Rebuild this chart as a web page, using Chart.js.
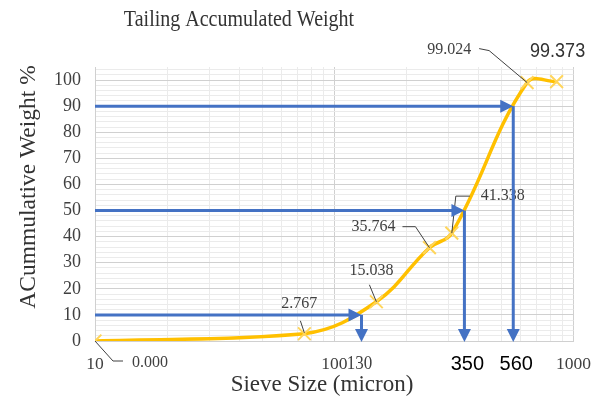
<!DOCTYPE html>
<html>
<head>
<meta charset="utf-8">
<script src="https://cdn.jsdelivr.net/npm/chart.js@4/dist/chart.umd.min.js"></script>
<style>
  html, body { margin: 0; padding: 0; background: #ffffff; }
  #wrap { width: 604px; height: 398px; }
</style>
</head>
<body>
<div id="wrap"><canvas id="chart" width="604" height="398"></canvas></div>
<script>
// Sieve analysis of the tailing: cumulative weight passing each sieve
const sieveSizes = [10, 75, 150, 250, 310, 640, 850];          // micron
const cumulativeWeight = [0, 2.767, 15.038, 35.764, 41.338, 99.024, 99.373]; // %

// Axis ticks
const xLabelledTicks = [10, 100, 1000];
const xGridValues = [10, 20, 30, 40, 50, 60, 70, 80, 90, 100, 200, 300, 400, 500, 600, 700, 800, 900, 1000];
const yLabelledTicks = [0, 10, 20, 30, 40, 50, 60, 70, 80, 90, 100];
const yGridStep = 2;

// Reading guides: percentage passing -> sieve size
const guideLevels = [10, 50, 90];
const guideSizes = [130, 350, 560];

// Styling / placement (not data)
const SERIF = '"Liberation Serif", "Times New Roman", serif';
const SANS = '"Liberation Sans", Arial, sans-serif';
const GOLD = '#FFC000';
const MARKER = '#FFD55A';
const BLUE = '#4472C4';
const TEXT = '#404040';

const labelPlacement = [
  { dx: 37,  dy: 21,  align: 'left',   leader: [[0, 0], [18, 20], [28, 20]] },
  { dx: -5,  dy: -30, align: 'center', leader: [[0, -1], [-4, -13]] },
  { dx: -5,  dy: -31, align: 'center', leader: [[0, 0], [-7, -17]] },
  { dx: -56, dy: -21, align: 'center', leader: [[0, 0], [-14, -21], [-27, -21]] },
  { dx: 29,  dy: -38, align: 'left',   leader: [[0, 0], [4, -37], [18, -37]] },
  { dx: -56, dy: -33, align: 'right',  leader: [[0, 0], [-38, -32], [-48, -34]] },
  { dx: 1,   dy: -30, align: 'center', leader: null, sans: true }
];
const guideLabelStyle = [
  { font: '17px ' + SERIF, color: TEXT },
  { font: '20px ' + SANS, color: '#000000' },
  { font: '20px ' + SANS, color: '#000000' }
];

const points = sieveSizes.map((s, i) => ({ x: s, y: cumulativeWeight[i] }));

function arrowHead(ctx, x, y, dir) {
  const len = 13, half = 6.5;
  ctx.beginPath();
  if (dir === 'right') {
    ctx.moveTo(x, y); ctx.lineTo(x - len, y - half); ctx.lineTo(x - len, y + half);
  } else {
    ctx.moveTo(x, y); ctx.lineTo(x - half, y - len); ctx.lineTo(x + half, y - len);
  }
  ctx.closePath();
  ctx.fill();
}

// horizontal text, slightly taller than wide
function tallText(ctx, text, x, y, font, sy) {
  ctx.save();
  ctx.translate(x, y);
  ctx.scale(1, sy);
  ctx.font = font;
  ctx.fillText(text, 0, 0);
  ctx.restore();
}

const annotations = {
  id: 'annotations',
  afterDatasetsDraw(chart) {
    const { ctx, scales: { x, y } } = chart;
    ctx.save();

    // value labels with leader lines
    points.forEach((p, i) => {
      const px = x.getPixelForValue(p.x);
      const py = y.getPixelForValue(p.y);
      const lp = labelPlacement[i];
      if (lp.leader) {
        ctx.strokeStyle = '#404040';
        ctx.lineWidth = 1;
        ctx.beginPath();
        lp.leader.forEach(([lx, ly], k) => {
          if (k === 0) ctx.moveTo(px + lx, py + ly); else ctx.lineTo(px + lx, py + ly);
        });
        ctx.stroke();
      }
      ctx.fillStyle = lp.sans ? '#333333' : TEXT;
      ctx.textAlign = lp.align;
      ctx.textBaseline = 'middle';
      tallText(ctx, p.y.toFixed(3), px + lp.dx, py + lp.dy, lp.sans ? '18px ' + SANS : '16px ' + SERIF, 1.08);
    });

    // reading guides: horizontal arrow to the curve, then down to the size axis
    guideLevels.forEach((lvl, i) => {
      const gx = x.getPixelForValue(guideSizes[i]);
      const gy = y.getPixelForValue(lvl);
      const x0 = x.getPixelForValue(x.min);
      const yb = y.getPixelForValue(0) + 1;
      ctx.strokeStyle = BLUE;
      ctx.fillStyle = BLUE;
      ctx.lineWidth = 3;
      ctx.beginPath();
      ctx.moveTo(x0, gy); ctx.lineTo(gx - 12, gy);
      ctx.stroke();
      arrowHead(ctx, gx, gy, 'right');
      ctx.beginPath();
      ctx.moveTo(gx, gy); ctx.lineTo(gx, yb - 12);
      ctx.stroke();
      arrowHead(ctx, gx, yb, 'down');

      const st = guideLabelStyle[i];
      ctx.fillStyle = st.color;
      ctx.textAlign = 'center';
      ctx.textBaseline = 'middle';
      tallText(ctx, String(guideSizes[i]), gx + (i === 0 ? -2 : 3), 364, st.font, 1.05);
    });

    // titles
    ctx.fillStyle = '#333333';
    ctx.textAlign = 'center';
    ctx.textBaseline = 'middle';
    tallText(ctx, 'Tailing Accumulated Weight', 239, 20, '20px ' + SERIF, 1.15);
    tallText(ctx, 'Sieve Size (micron)', 322, 385, '23px ' + SERIF, 1.0);
    ctx.save();
    ctx.translate(29, 187);
    ctx.rotate(-Math.PI / 2);
    ctx.font = '23.5px ' + SERIF;
    ctx.fillText('ACummulative Weight %', 0, 0);
    ctx.restore();

    ctx.restore();
  }
};

new Chart(document.getElementById('chart'), {
  type: 'line',
  data: {
    datasets: [{
      data: points,
      borderColor: GOLD,
      borderWidth: 3.5,
      tension: 0.4,
      fill: false,
      pointStyle: 'crossRot',
      pointRadius: 9,
      pointBorderColor: MARKER,
      pointBorderWidth: 2,
      pointBackgroundColor: MARKER
    }]
  },
  options: {
    responsive: false,
    animation: false,
    devicePixelRatio: 1,
    layout: { padding: { left: 0, top: 67, right: 29, bottom: 0 } },
    plugins: { legend: { display: false }, tooltip: { enabled: false }, title: { display: false } },
    scales: {
      x: {
        type: 'logarithmic',
        min: 10,
        max: 1000,
        afterBuildTicks: (s) => { s.ticks = xGridValues.map(v => ({ value: v, major: xLabelledTicks.includes(v) })); },
        afterFit: (s) => { s.height = 57; },
        ticks: {
          autoSkip: false,
          maxRotation: 0,
          padding: 13,
          color: TEXT,
          font: { family: SERIF, size: 17.5 },
          callback: (v) => (xLabelledTicks.includes(v) ? String(v) : '')
        },
        grid: {
          drawTicks: false,
          lineWidth: 1,
          color: (c) => (c.tick && xLabelledTicks.includes(c.tick.value) ? '#d0d0d0' : '#ebebeb')
        },
        border: { color: '#d0d0d0' }
      },
      y: {
        min: 0,
        max: 105,
        afterBuildTicks: (s) => {
          const t = [];
          for (let v = 0; v <= 104; v += yGridStep) t.push({ value: v });
          s.ticks = t;
        },
        afterFit: (s) => { s.width = 95; },
        ticks: {
          autoSkip: false,
          padding: 14,
          color: TEXT,
          font: { family: SERIF, size: 18 },
          callback: (v) => (yLabelledTicks.includes(v) ? String(v) : '')
        },
        grid: {
          drawTicks: false,
          lineWidth: 1,
          color: (c) => (c.tick && c.tick.value % 10 === 0 ? '#d0d0d0' : '#ebebeb')
        },
        border: { color: '#d0d0d0' }
      }
    }
  },
  plugins: [annotations]
});
</script>
</body>
</html>
